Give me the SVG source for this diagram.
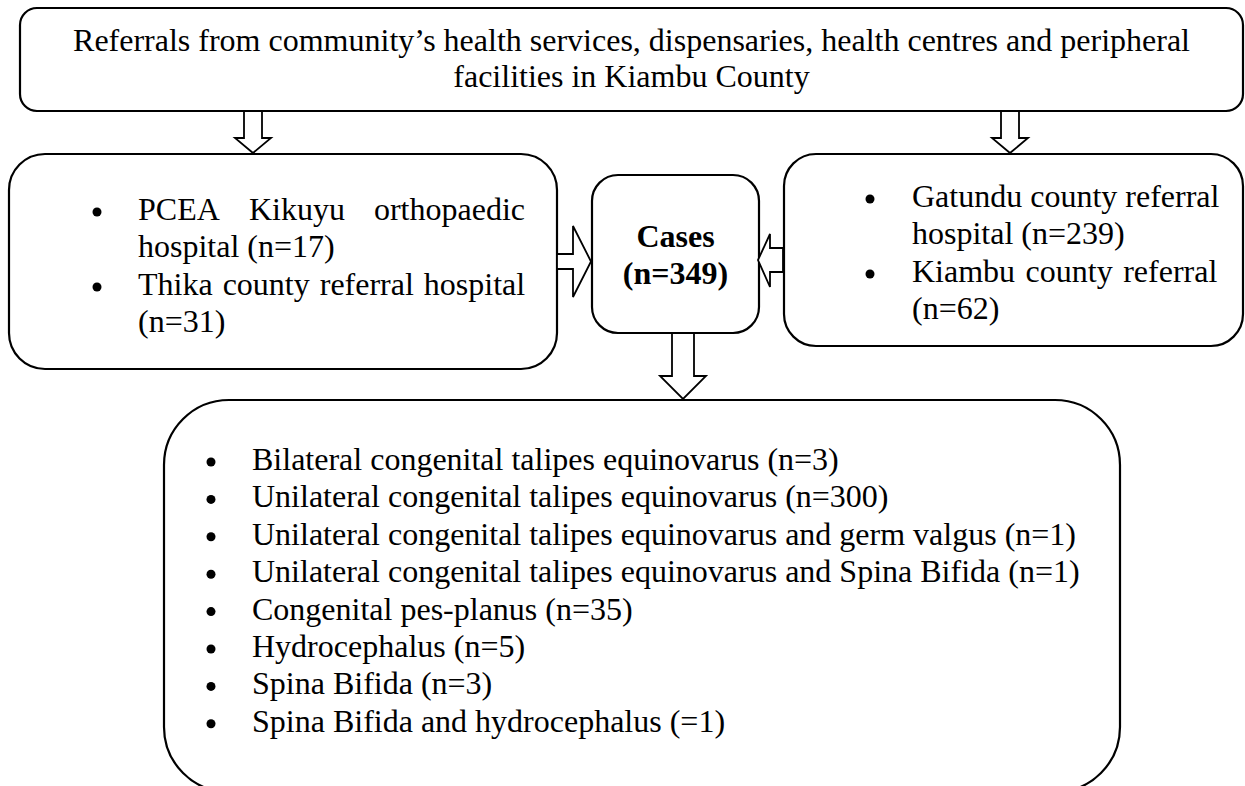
<svg xmlns="http://www.w3.org/2000/svg" width="1245" height="786" viewBox="0 0 1245 786">
<style>
.box{fill:#fff;stroke:#000;stroke-width:2.2}
.arr{fill:#fff;stroke:#000;stroke-width:1.8;stroke-linejoin:miter}
.t{font-family:"Liberation Serif","Times New Roman",serif;font-size:32px;fill:#000}
.b{font-weight:bold}
.dot{fill:#000}
</style>
<rect width="1245" height="786" fill="#fff"/>
<g id="top">
<rect class="box" x="20" y="8" width="1223" height="103" rx="17"/>
<text class="t" x="631.5" y="51" text-anchor="middle">Referrals from community’s health services, dispensaries, health centres and peripheral</text>
<text class="t" x="631.5" y="87" text-anchor="middle">facilities in Kiambu County</text>
</g>
<g id="left">
<rect class="box" x="9" y="154" width="548" height="215" rx="36"/>
<circle class="dot" cx="97" cy="212" r="4.5"/>
<text class="t" y="220"><tspan x="138">PCEA</tspan><tspan x="249">Kikuyu</tspan><tspan x="525" text-anchor="end">orthopaedic</tspan></text>
<text class="t" x="138" y="257">hospital (n=17)</text>
<circle class="dot" cx="97" cy="287" r="4.5"/>
<text class="t" x="138" y="295" word-spacing="2">Thika county referral hospital</text>
<text class="t" x="138" y="332">(n=31)</text>
</g>
<g id="cases">
<rect class="box" x="592" y="175" width="167" height="158" rx="26"/>
<text class="t b" x="675.5" y="247" text-anchor="middle">Cases</text>
<text class="t b" x="675.5" y="284" text-anchor="middle">(n=349)</text>
</g>
<g id="right">
<rect class="box" x="784" y="154" width="459" height="192" rx="32"/>
<circle class="dot" cx="870" cy="199" r="4.5"/>
<text class="t" x="912" y="207">Gatundu county referral</text>
<text class="t" x="912" y="244">hospital (n=239)</text>
<circle class="dot" cx="870" cy="274" r="4.5"/>
<text class="t" x="912" y="282" word-spacing="2.5">Kiambu county referral</text>
<text class="t" x="912" y="319">(n=62)</text>
</g>
<g id="conditions">
<rect class="box" x="164" y="400" width="956" height="392" rx="65"/>
<circle class="dot" cx="211" cy="462" r="4.5"/>
<text class="t" x="252" y="470">Bilateral congenital talipes equinovarus (n=3)</text>
<circle class="dot" cx="211" cy="499.4" r="4.5"/>
<text class="t" x="252" y="507.4">Unilateral congenital talipes equinovarus (n=300)</text>
<circle class="dot" cx="211" cy="536.8" r="4.5"/>
<text class="t" x="252" y="544.8">Unilateral congenital talipes equinovarus and germ valgus (n=1)</text>
<circle class="dot" cx="211" cy="574.2" r="4.5"/>
<text class="t" x="252" y="582.2">Unilateral congenital talipes equinovarus and Spina Bifida (n=1)</text>
<circle class="dot" cx="211" cy="611.6" r="4.5"/>
<text class="t" x="252" y="619.6">Congenital pes-planus (n=35)</text>
<circle class="dot" cx="211" cy="649" r="4.5"/>
<text class="t" x="252" y="657">Hydrocephalus (n=5)</text>
<circle class="dot" cx="211" cy="686.4" r="4.5"/>
<text class="t" x="252" y="694.4">Spina Bifida (n=3)</text>
<circle class="dot" cx="211" cy="723.8" r="4.5"/>
<text class="t" x="252" y="731.8">Spina Bifida and hydrocephalus (=1)</text>
</g>
<g id="connectors">
<polygon class="arr" points="244,111 262,111 262,138 271,138 253,153 235,138 244,138"/>
<polygon class="arr" points="1001,111 1019,111 1019,138 1028,138 1010,153 992,138 1001,138"/>
<polygon class="arr" points="557,254 573,254 573,226 591,261.5 573,297 573,269 557,269"/>
<polygon class="arr" points="783,248 770,248 770,234 758,260 770,287 770,272 783,272"/>
<polygon class="arr" points="672,333 694,333 694,376 706,376 683,399 660,376 672,376"/>
</g>
</svg>
